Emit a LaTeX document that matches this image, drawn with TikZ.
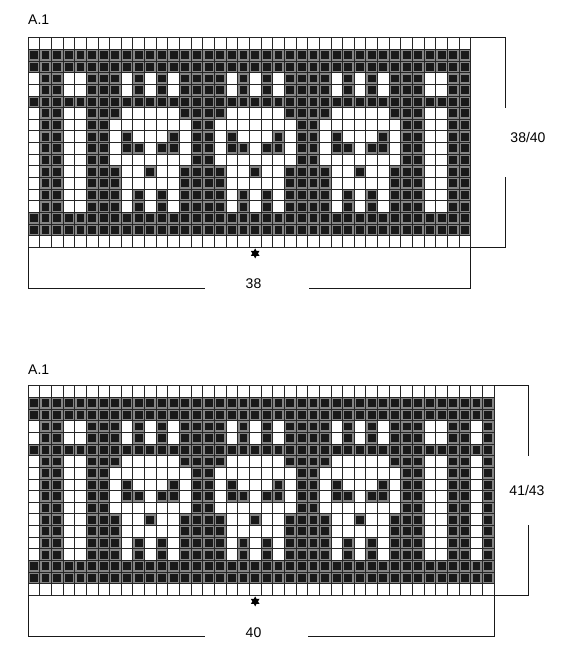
\documentclass[tikz,border=0pt]{standalone}
\usepackage{fontspec}
\setmainfont{Liberation Sans}
\usetikzlibrary{shapes.geometric}

\tikzset{
  knitgrid/.style={draw=black!85, line width=0.8pt},
  stitchring/.style={fill=black!48},
  stitchcore/.style={fill=black!90},
  dimline/.style={draw=black!90, line width=0.8pt},
  dimlabel/.style={font=\fontsize{14}{16}\selectfont, inner sep=0pt},
  midmark/.style={star, star points=6, star point ratio=1.8, fill=black, inner sep=0pt, minimum size=10pt},
}
\newcommand{\cellsz}{11.65}
% one dark stitch at column #1, row #2 (counted from the top left)
\newcommand{\knitstitch}[2]{%
  \fill[stitchring] ({#1*\cellsz},{#2*\cellsz}) rectangle ++(\cellsz,\cellsz);
  \fill[stitchcore] ({#1*\cellsz+1.9},{#2*\cellsz+1.9}) rectangle ++(\cellsz-3.8,\cellsz-3.8);
}
% the 38 stitch border motif, rows 1 to 16
\newcommand{\knitpattern}{%
  \foreach \r/\cols in {
    1/{0,...,37}, 2/{0,...,37},
    3/{1,2,5,6,7,9,11,13,14,15,16,18,20,22,23,24,25,27,29,31,32,33,36,37},
    4/{1,2,5,6,7,9,11,13,14,15,16,18,20,22,23,24,25,27,29,31,32,33,36,37},
    5/{0,...,37},
    6/{1,2,5,6,7,13,14,15,16,22,23,24,25,31,32,33,36,37},
    7/{1,2,5,6,14,15,23,24,32,33,36,37},
    8/{1,2,5,6,8,12,14,15,17,21,23,24,26,30,32,33,36,37},
    9/{1,2,5,6,8,9,11,12,14,15,17,18,20,21,23,24,26,27,29,30,32,33,36,37},
    10/{1,2,5,6,14,15,23,24,32,33,36,37},
    11/{1,2,5,6,7,10,13,14,15,16,19,22,23,24,25,28,31,32,33,36,37},
    12/{1,2,5,6,7,13,14,15,16,22,23,24,25,31,32,33,36,37},
    13/{1,2,5,6,7,9,11,13,14,15,16,18,20,22,23,24,25,27,29,31,32,33,36,37},
    14/{1,2,5,6,7,9,11,13,14,15,16,18,20,22,23,24,25,27,29,31,32,33,36,37},
    15/{0,...,37}, 16/{0,...,37}}{
    \foreach \c in \cols {\knitstitch{\c}{\r}}
  }
}
% grid of #1 columns and 18 rows
\newcommand{\knitgridlines}[1]{%
  \foreach \i in {0,...,#1} \draw[knitgrid] (\i*\cellsz,0) -- (\i*\cellsz,18*\cellsz);
  \foreach \j in {0,...,18} \draw[knitgrid] (0,\j*\cellsz) -- (#1*\cellsz,\j*\cellsz);
}

\begin{document}
\begin{tikzpicture}[x=1pt, y=-1pt]
\useasboundingbox (0,0) rectangle (564,650);

% first chart, 38 stitches
\node[dimlabel, anchor=base west] (title1) at (28,25) {A.1};
\begin{scope}[shift={(28,37.7)}]
  \knitpattern
  \knitgridlines{38}
  \coordinate (c1-ne) at (38*\cellsz,0);
  \coordinate (c1-sw) at (0,18*\cellsz);
  \coordinate (c1-se) at (38*\cellsz,18*\cellsz);
  \node[midmark] (mid1) at (19.5*\cellsz,18*\cellsz+6) {};
\end{scope}
\node[dimlabel] (height1) at (528,137) {38/40};
\node[dimlabel] (width1) at (253.5,284) {38};
\draw[dimline] (c1-ne) -- ++(34.5,0) coordinate (h1-a) -- ++(0,70);
\draw[dimline] (c1-se) -- ++(34.5,0) coordinate (h1-b) -- ++(0,-70);
\draw[dimline] (c1-sw) -- ++(0,40.6) coordinate (w1-a) -- ++(177,0);
\draw[dimline] (c1-se) -- ++(0,40.6) coordinate (w1-b) -- ++(-162,0);

% second chart, 40 stitches
\node[dimlabel, anchor=base west] (title2) at (28,374) {A.1};
\begin{scope}[shift={(28,385.7)}]
  \knitpattern
  \foreach \r in {1,...,16} {\knitstitch{39}{\r}}
  \foreach \r in {1,2,5,15,16} {\knitstitch{38}{\r}}
  \knitgridlines{40}
  \coordinate (c2-ne) at (40*\cellsz,0);
  \coordinate (c2-sw) at (0,18*\cellsz);
  \coordinate (c2-se) at (40*\cellsz,18*\cellsz);
  \node[midmark] (mid2) at (19.5*\cellsz,18*\cellsz+6) {};
\end{scope}
\node[dimlabel] (height2) at (527,490) {41/43};
\node[dimlabel] (width2) at (253.5,633) {40};
\draw[dimline] (c2-ne) -- ++(34,0) coordinate (h2-a) -- ++(0,70);
\draw[dimline] (c2-se) -- ++(34,0) coordinate (h2-b) -- ++(0,-70);
\draw[dimline] (c2-sw) -- ++(0,41) coordinate (w2-a) -- ++(177,0);
\draw[dimline] (c2-se) -- ++(0,41) coordinate (w2-b) -- ++(-186,0);
\end{tikzpicture}
\end{document}
